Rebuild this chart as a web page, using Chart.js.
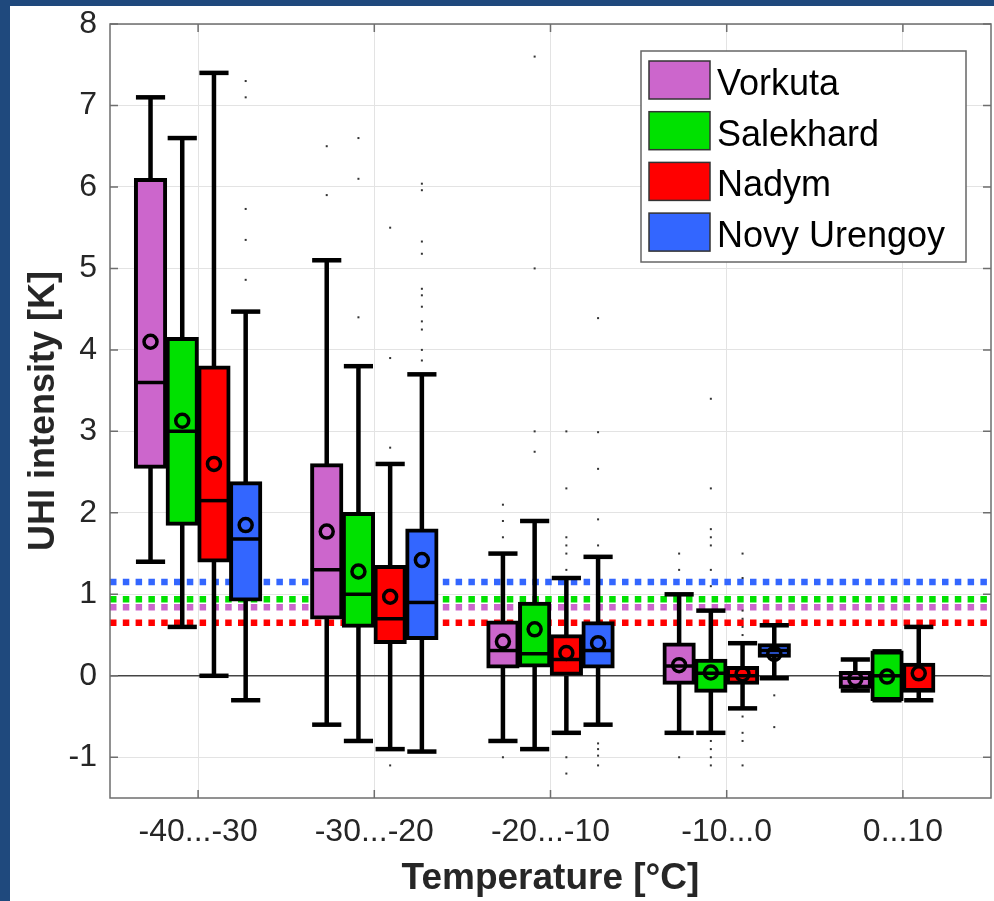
<!DOCTYPE html>
<html>
<head>
<meta charset="utf-8">
<script src="https://cdn.jsdelivr.net/npm/chart.js@4.4.0/dist/chart.umd.min.js"></script>
<style>
  html, body { margin: 0; padding: 0; background: #1f497d; width: 994px; height: 901px; overflow: hidden; }
  #wrap { position: absolute; left: 10px; top: 6px; width: 984px; height: 895px; background: #fff; }
</style>
</head>
<body>
<div id="wrap"><canvas id="uhi"></canvas></div>
<script>
// temperature bins and stations
const categories = ['-40...-30', '-30...-20', '-20...-10', '-10...0', '0...10'];
const stations = ['Vorkuta', 'Salekhard', 'Nadym', 'Novy Urengoy'];
const colors = ['#cc66cc', '#00e100', '#ff0000', '#3366ff'];
const yTicks = [-1, 0, 1, 2, 3, 4, 5, 6, 7, 8];

// mean UHI per station (dotted lines)
const refLines = [0.84, 0.94, 0.65, 1.15];

// box statistics, one row per station, one column per bin
const whiskerLo = [
    [1.4, -0.6, -0.8, -0.7, -0.18],
    [0.6, -0.8, -0.9, -0.7, -0.3],
    [0.0, -0.9, -0.7, -0.4, -0.3],
    [-0.3, -0.93, -0.6, -0.03, null]
];
const q1 = [
    [2.55, 0.7, 0.1, -0.1, -0.15],
    [1.85, 0.6, 0.11, -0.2, -0.3],
    [1.4, 0.4, 0.0, -0.1, -0.2],
    [0.92, 0.45, 0.1, 0.23, null]
];
const medians = [
    [3.6, 1.3, 0.31, 0.12, -0.03],
    [3.0, 1.0, 0.27, 0.03, 0.0],
    [2.15, 0.7, 0.2, 0.0, -0.17],
    [1.68, 0.9, 0.31, 0.31, null]
];
const q3 = [
    [6.1, 2.6, 0.67, 0.4, 0.05],
    [4.15, 2.0, 0.9, 0.2, 0.3],
    [3.8, 1.35, 0.5, 0.11, 0.15],
    [2.38, 1.8, 0.66, 0.39, null]
];
const whiskerHi = [
    [7.1, 5.1, 1.5, 1.0, 0.2],
    [6.6, 3.8, 1.9, 0.8, 0.3],
    [7.4, 2.6, 1.2, 0.4, 0.6],
    [4.47, 3.7, 1.46, 0.62, null]
];
const means = [
    [4.1, 1.77, 0.42, 0.13, -0.04],
    [3.13, 1.28, 0.57, 0.04, -0.01],
    [2.6, 0.97, 0.28, 0.02, 0.03],
    [1.85, 1.42, 0.4, 0.27, null]
];
const outliers = [
    [[], [6.5, 5.9], [2.1, 1.9, 1.7, -1.0], [1.5, 1.3, -1.0], []],
    [[], [6.6, 6.1, 4.4], [7.6, 5.0, 3.0, 2.75], [3.4, 2.3, 1.8, 1.7, 1.6, 1.3, 1.1, -0.8, -0.9, -1.0, -1.1], []],
    [[], [5.5, 3.9, 2.8, -1.1], [3.0, 2.3, 1.7, 1.6, 1.5, 1.3, -1.0, -1.2], [1.5, 1.2, 0.8, 0.7, 0.6, 0.5, -0.5, -0.7, -0.8, -1.1], []],
    [[7.3, 7.1, 5.73, 5.35, 4.86],
     [6.04, 5.96, 5.33, 5.18, 4.75, 4.67, 4.53, 4.35, 4.25, 4.0, 3.87],
     [4.39, 2.99, 2.54, 1.92, 1.6, -0.83, -0.9, -0.98, -1.1],
     [-0.24, -0.63], []]
];

const fontName = '"Liberation Sans", Arial, Helvetica, sans-serif';
const axisGray = '#6e6e6e';

const boxExtras = {
    id: 'boxExtras',
    beforeDatasetsDraw(chart) {
        const { ctx, chartArea: a, scales: { y } } = chart;
        ctx.save();
        ctx.beginPath();
        ctx.rect(a.left, a.top, a.width, a.height);
        ctx.clip();
        ctx.setLineDash([6.5, 6.3]);
        ctx.lineWidth = 6.5;
        refLines.forEach((v, s) => {
            const py = y.getPixelForValue(v);
            ctx.strokeStyle = colors[s];
            ctx.beginPath();
            ctx.moveTo(a.left, py);
            ctx.lineTo(a.right, py);
            ctx.stroke();
        });
        ctx.restore();
    },
    afterDatasetsDraw(chart) {
        const { ctx, scales: { y } } = chart;
        ctx.save();
        stations.forEach((name, s) => {
            const meta = chart.getDatasetMeta(s);
            categories.forEach((c, i) => {
                if (q1[s][i] === null) return;
                const bar = meta.data[i];
                const x = bar.x, w = bar.width;
                ctx.strokeStyle = '#000';
                ctx.setLineDash([]);
                // whiskers
                ctx.lineWidth = 4.5;
                ctx.beginPath();
                ctx.moveTo(x, y.getPixelForValue(q3[s][i]));
                ctx.lineTo(x, y.getPixelForValue(whiskerHi[s][i]));
                ctx.moveTo(x, y.getPixelForValue(q1[s][i]));
                ctx.lineTo(x, y.getPixelForValue(whiskerLo[s][i]));
                ctx.stroke();
                const cw = w * 0.92;
                [whiskerHi[s][i], whiskerLo[s][i]].forEach(v => {
                    const py = y.getPixelForValue(v);
                    ctx.beginPath();
                    ctx.moveTo(x - cw / 2, py);
                    ctx.lineTo(x + cw / 2, py);
                    ctx.stroke();
                });
                // median
                ctx.lineWidth = 3.5;
                const pm = y.getPixelForValue(medians[s][i]);
                ctx.beginPath();
                ctx.moveTo(x - w / 2, pm);
                ctx.lineTo(x + w / 2, pm);
                ctx.stroke();
                // mean
                ctx.beginPath();
                ctx.arc(x, y.getPixelForValue(means[s][i]), 6.5, 0, Math.PI * 2);
                ctx.stroke();
            });
            // outliers
            ctx.fillStyle = '#333';
            outliers[s].forEach((list, i) => {
                const bar = meta.data[i];
                list.forEach(v => {
                    const py = y.getPixelForValue(v);
                    ctx.fillRect(bar.x - 1, py - 1, 2, 2);
                });
            });
        });
        ctx.restore();
    },
    afterDraw(chart) {
        const { ctx, chartArea: a, scales: { x, y } } = chart;
        ctx.save();
        // axes box with inner ticks
        ctx.strokeStyle = axisGray;
        ctx.lineWidth = 1.5;
        ctx.strokeRect(a.left, a.top, a.width, a.height);
        ctx.beginPath();
        yTicks.forEach(v => {
            const py = y.getPixelForValue(v);
            ctx.moveTo(a.left, py); ctx.lineTo(a.left + 8, py);
            ctx.moveTo(a.right, py); ctx.lineTo(a.right - 8, py);
        });
        categories.forEach((c, i) => {
            const px = x.getPixelForTick(i);
            ctx.moveTo(px, a.bottom); ctx.lineTo(px, a.bottom - 8);
            ctx.moveTo(px, a.top); ctx.lineTo(px, a.top + 8);
        });
        ctx.stroke();

        // legend in the upper right corner
        const lw = 325, lh = 211;
        const lx = a.right - 25 - lw, ly = a.top + 27;
        ctx.fillStyle = '#fff';
        ctx.fillRect(lx, ly, lw, lh);
        ctx.strokeStyle = '#666';
        ctx.lineWidth = 1.5;
        ctx.strokeRect(lx, ly, lw, lh);
        ctx.font = '36px ' + fontName;
        ctx.textBaseline = 'alphabetic';
        ctx.textAlign = 'left';
        stations.forEach((name, s) => {
            const sy = ly + 10 + s * 50.7;
            ctx.fillStyle = colors[s];
            ctx.fillRect(lx + 8, sy, 61, 38);
            ctx.strokeStyle = '#333';
            ctx.strokeRect(lx + 8, sy, 61, 38);
            ctx.fillStyle = '#000';
            ctx.fillText(name, lx + 76, sy + 34);
        });
        ctx.restore();
    }
};

const datasets = stations.map((name, s) => ({
    label: name,
    data: categories.map((c, i) => q1[s][i] === null ? null : [q1[s][i], q3[s][i]]),
    backgroundColor: colors[s],
    borderColor: '#000',
    borderWidth: 4,
    borderSkipped: false,
    inflateAmount: 0.75,
    categoryPercentage: 0.72,
    barPercentage: 1.0
}));

const chart = new Chart(document.getElementById('uhi').getContext('2d'), {
    type: 'bar',
    data: { labels: categories, datasets: datasets },
    plugins: [boxExtras],
    options: {
        responsive: true,
        maintainAspectRatio: false,
        animation: false,
        layout: { padding: { left: 0, right: 3, top: 18, bottom: 0 } },
        plugins: {
            legend: { display: false },
            tooltip: { enabled: false }
        },
        scales: {
            x: {
                afterFit: s => { s.height = 103; s.paddingLeft = 0; s.paddingRight = 0; },
                grid: { offset: false, color: '#e3e3e3', drawTicks: false },
                border: { display: false },
                ticks: {
                    color: '#262626',
                    padding: 15,
                    font: { family: fontName, size: 32 }
                },
                title: {
                    display: true,
                    text: 'Temperature [°C]',
                    color: '#262626',
                    padding: { top: 0, bottom: 0 },
                    font: { family: fontName, size: 37, weight: 'bold' }
                }
            },
            y: {
                min: -1.5,
                max: 8,
                afterFit: s => { s.width = 100; s.paddingTop = 0; s.paddingBottom = 0; },
                afterBuildTicks: s => { s.ticks = yTicks.map(v => ({ value: v })); },
                grid: {
                    drawTicks: false,
                    color: c => c.tick && c.tick.value === 0 ? '#444' : '#e3e3e3',
                    lineWidth: c => c.tick && c.tick.value === 0 ? 1.5 : 1
                },
                border: { display: false },
                ticks: {
                    color: '#262626',
                    padding: 13,
                    font: { family: fontName, size: 32 },
                    callback: v => String(v)
                },
                title: {
                    display: true,
                    text: 'UHI intensity [K]',
                    color: '#262626',
                    padding: { top: 12, bottom: 0 },
                    font: { family: fontName, size: 36, weight: 'bold' }
                }
            }
        }
    }
});
</script>
</body>
</html>
